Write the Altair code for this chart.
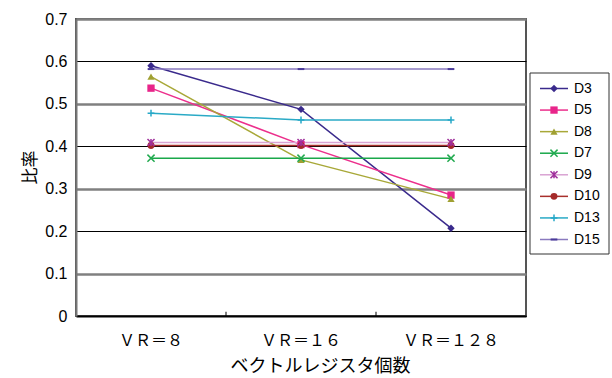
import altair as alt
import pandas as pd

# Register-count settings along the x axis
categories = ["ＶＲ＝８", "ＶＲ＝１６", "ＶＲ＝１２８"]

# Ratio per series at each register count
series = ["D3", "D5", "D8", "D7", "D9", "D10", "D13", "D15"]
d3 = [0.590, 0.487, 0.207]
d5 = [0.537, 0.404, 0.285]
d8 = [0.564, 0.368, 0.276]
d7 = [0.372, 0.372, 0.372]
d9 = [0.409, 0.409, 0.409]
d10 = [0.402, 0.402, 0.402]
d13 = [0.478, 0.462, 0.462]
d15 = [0.582, 0.582, 0.582]

y_ticks = [0, 0.1, 0.2, 0.3, 0.4, 0.5, 0.6, 0.7]

values = {"D3": d3, "D5": d5, "D8": d8, "D7": d7, "D9": d9,
          "D10": d10, "D13": d13, "D15": d15}

rows = [{"series": s, "vr": c, "ratio": v}
        for s in series for c, v in zip(categories, values[s])]
df = pd.DataFrame(rows)
legend_df = pd.DataFrame({"series": series})

# Styling per series
line_colors = ["#3a2a8c", "#ec2f8c", "#a8a838", "#1aa84a",
               "#d9a3d3", "#a8302c", "#2aaac6", "#8a7abf"]
marker_colors = ["#3a2a8c", "#e8258a", "#a0a032", "#22aa50",
                 "#a0309c", "#a52a2a", "#26a8c8", "#4a3a9a"]
line_widths = [1.5, 1.5, 1.5, 1.5, 3, 1.5, 2, 3]
X_PATH = "M-1,-1L1,1M-1,1L1,-1"
STAR_PATH = "M-1,-1L1,1M-1,1L1,-1M0,-1L0,1"
PLUS_PATH = "M-1,0L1,0M0,-1L0,1"
DASH_PATH = "M-1,-0.3L1,-0.3L1,0.3L-1,0.3Z"
shapes = ["diamond", "square", "triangle-up", X_PATH,
          STAR_PATH, "circle", PLUS_PATH, DASH_PATH]
marker_sizes = [55, 45, 55, 40, 50, 36, 70, 45]

filled_series = ["D3", "D5", "D8", "D10", "D15"]
stroked_series = ["D7", "D9", "D13"]

FONT = "Liberation Sans, Noto Sans CJK JP"
JP_FONT = "Noto Sans CJK JP"

x_enc = alt.X("vr:N", sort=categories,
              scale=alt.Scale(type="band", domain=categories,
                              paddingInner=0, paddingOuter=0),
              axis=alt.Axis(title="ベクトルレジスタ個数", labelAngle=0,
                            labelFont=JP_FONT, labelFontSize=16,
                            labelColor="black", labelPadding=16,
                            ticks=False, domainColor="black", domainWidth=2,
                            titleFont=JP_FONT, titleFontSize=18,
                            titleFontWeight="normal", titleColor="black",
                            titleX=244, titleY=50, titleBaseline="middle",
                            titleAlign="center"))

y_scale = alt.Scale(domain=[0, 0.7], nice=False, zero=True)
y_enc = alt.Y("ratio:Q", scale=y_scale,
              axis=alt.Axis(title="比率", values=y_ticks,
                            labelExpr="datum.value == 0 ? '0' : format(datum.value, '.1f')",
                            labelFont=FONT, labelFontSize=16, labelColor="black",
                            labelPadding=9, ticks=False,
                            domainColor="#777777", domainWidth=2,
                            grid=True,
                            gridColor={"condition": {"test": "round(datum.value*10) % 2 == 1",
                                                     "value": "#808080"},
                                       "value": "#000000"},
                            gridWidth={"condition": {"test": "round(datum.value*10) % 2 == 1",
                                                     "value": 2.5},
                                       "value": 1},
                            gridOpacity=1,
                            titleFont=JP_FONT, titleFontSize=17,
                            titleFontWeight="normal", titleColor="black",
                            titleX=-46, titleY=148, titleAlign="center",
                            titleBaseline="middle"))

base = alt.Chart(df)

line_color = alt.Color("series:N", scale=alt.Scale(domain=series, range=line_colors), legend=None)
line_size = alt.Size("series:N", scale=alt.Scale(domain=series, range=line_widths), legend=None)
marker_color = alt.Color("series:N", scale=alt.Scale(domain=series, range=marker_colors), legend=None)
marker_shape = alt.Shape("series:N", scale=alt.Scale(domain=series, range=shapes), legend=None)
marker_size = alt.Size("series:N", scale=alt.Scale(domain=series, range=marker_sizes), legend=None)

lines = base.mark_line().encode(
    x=x_enc, y=y_enc, color=line_color, size=line_size, detail="series:N",
)

pts_filled = base.mark_point(filled=True, opacity=1).encode(
    x=alt.X("vr:N", sort=categories), y=alt.Y("ratio:Q"),
    color=marker_color, shape=marker_shape, size=marker_size,
).transform_filter(alt.FieldOneOfPredicate(field="series", oneOf=filled_series))

pts_stroked = base.mark_point(filled=False, strokeWidth=1.5, opacity=1).encode(
    x=alt.X("vr:N", sort=categories), y=alt.Y("ratio:Q"),
    color=marker_color, shape=marker_shape, size=marker_size,
).transform_filter(alt.FieldOneOfPredicate(field="series", oneOf=stroked_series))

markers = alt.layer(pts_filled, pts_stroked)

# Small category-boundary ticks rising from the x axis
tick_df = pd.DataFrame({"vr": categories[1:], "y0": [0.0, 0.0], "y1": [0.01, 0.01]})
cat_ticks = alt.Chart(tick_df).mark_rule(color="black", strokeWidth=1).encode(
    x=alt.X("vr:N", sort=categories, bandPosition=0),
    y=alt.Y("y0:Q"), y2="y1:Q",
)

main = alt.layer(lines, cat_ticks, markers).resolve_scale(
    size="independent", color="independent")

# Legend panel to the right of the plot
leg_y = alt.Y("series:N", scale=alt.Scale(type="point", domain=series,
                                          range=[69.5, 220.5], padding=0), axis=None)
leg_base = alt.Chart(legend_df)

box = alt.Chart(pd.DataFrame({"k": [0]})).mark_rect(
    fill="white", stroke="#333333", strokeWidth=1
).encode(x=alt.value(454), x2=alt.value(533), y=alt.value(54), y2=alt.value(235))

leg_lines = leg_base.mark_rule().encode(
    x=alt.value(464), x2=alt.value(492), y=leg_y, color=line_color, size=line_size,
)
leg_pts_filled = leg_base.mark_point(filled=True, opacity=1).encode(
    x=alt.value(478), y=leg_y,
    color=marker_color, shape=marker_shape, size=marker_size,
).transform_filter(alt.FieldOneOfPredicate(field="series", oneOf=filled_series))
leg_pts_stroked = leg_base.mark_point(filled=False, strokeWidth=1.5, opacity=1).encode(
    x=alt.value(478), y=leg_y,
    color=marker_color, shape=marker_shape, size=marker_size,
).transform_filter(alt.FieldOneOfPredicate(field="series", oneOf=stroked_series))
leg_markers = alt.layer(leg_pts_filled, leg_pts_stroked)
leg_text = leg_base.mark_text(align="left", baseline="middle", font=FONT,
                              fontSize=14, color="black").encode(
    x=alt.value(498), y=leg_y, text="series:N")

legend = alt.layer(box, leg_lines, leg_markers, leg_text).resolve_scale(
    size="independent", color="independent")

chart = alt.layer(main, legend).resolve_scale(
    y="independent", color="independent", shape="independent", size="independent"
).properties(
    width=450, height=297,
    autosize=alt.AutoSizeParams(type="none"),
    padding={"left": 76, "top": 19, "right": 86, "bottom": 62},
    background="white",
).configure_view(stroke="#555555", strokeWidth=2)

chart.save("out.html", embed_options={"renderer": "svg", "actions": False})
